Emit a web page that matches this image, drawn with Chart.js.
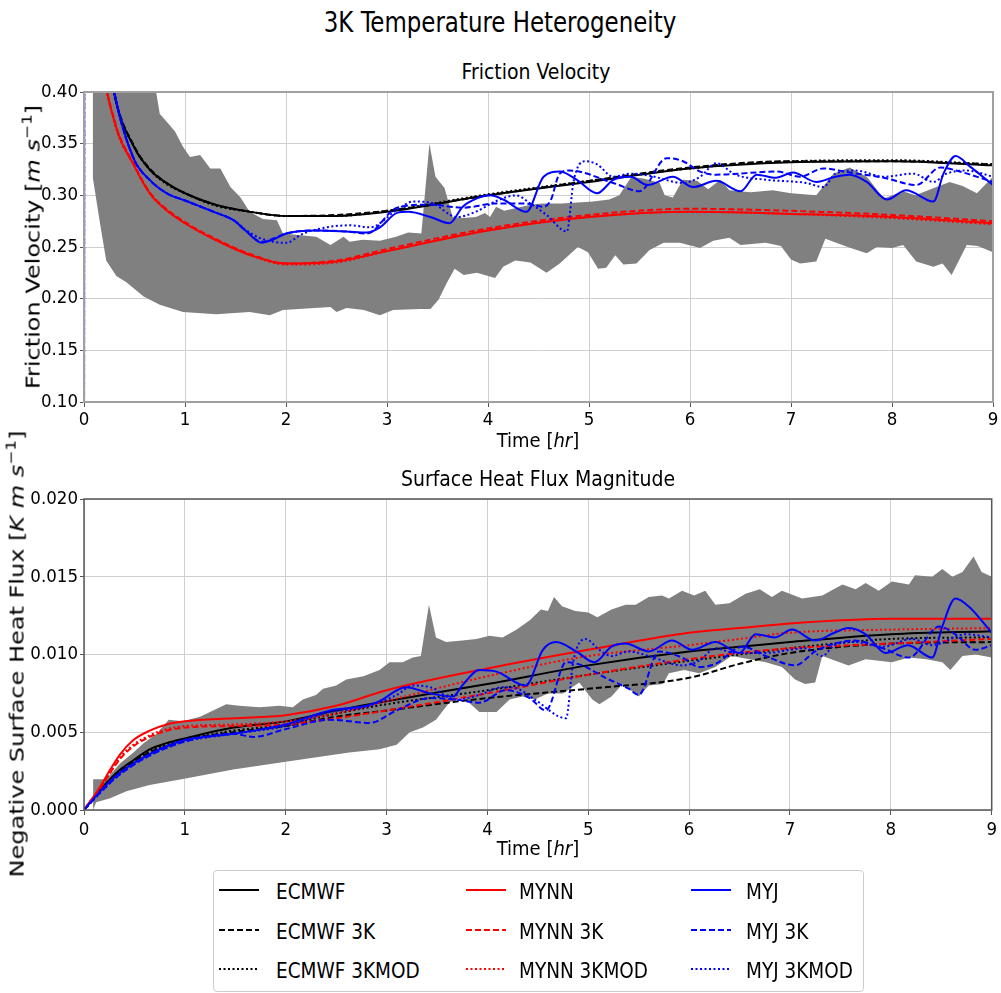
<!DOCTYPE html>
<html>
<head>
<meta charset="utf-8">
<script src="https://cdn.jsdelivr.net/npm/chart.js@4.4.1/dist/chart.umd.min.js"></script>
<style>
  body { margin: 0; background: #fff; }
  #page { position: relative; width: 1001px; height: 993px; overflow: hidden;
          font-family: 'DejaVu Sans Condensed', 'DejaVu Sans', sans-serif; color: #000; }
  canvas { position: absolute; left: 0; }
  .txt { position: absolute; white-space: nowrap; line-height: 1; }
  .ctr { transform: translateX(-50%); }
  .ylab { font-family: 'DejaVu Sans', sans-serif; font-size: 24px;
          transform: translate(-50%, -50%) rotate(-90deg) scaleY(0.8); }
  sup { font-size: 0.7em; vertical-align: 0.55em; line-height: 0; }
  #legend { position: absolute; left: 213px; top: 870px; width: 649px; height: 120px;
            border: 1px solid #ccc; border-radius: 4px; background: #fff; }
  .item { position: absolute; height: 24px; font-size: 20.5px; white-space: nowrap; }
  .item svg { position: absolute; left: 0; top: 2px; }
  .item span { position: absolute; top: 2px; white-space: nowrap; }
</style>
</head>
<body>
<div id="page">
  <div class="txt" style="left:500px; top:9px; font-size:28px; transform: translateX(-50%) scaleX(0.91);">3K Temperature Heterogeneity</div>

  <div class="txt ctr" style="left:536px; top:62px; font-size:21px;">Friction Velocity</div>
  <canvas id="ustar" width="1001" height="460" style="top:0;"></canvas>
  <div class="txt ctr" style="left:538px; top:430px; font-size:20px;">Time [<i>hr</i>]</div>
  <div class="txt ylab" style="left:33px; top:247px;">Friction Velocity [<i>m</i> <i>s</i><sup>−1</sup>]</div>

  <div class="txt ctr" style="left:538px; top:469px; font-size:21px;">Surface Heat Flux Magnitude</div>
  <canvas id="heat" width="1001" height="410" style="top:460px;"></canvas>
  <div class="txt ctr" style="left:538px; top:838px; font-size:20px;">Time [<i>hr</i>]</div>
  <div class="txt ylab" style="left:17px; top:654px;">Negative Surface Heat Flux [<i>K</i> <i>m</i> <i>s</i><sup>−1</sup>]</div>

  <div id="legend"></div>
</div>
<script>
// ---- friction velocity (m/s) ----
const tUstar = [0.05, 0.15, 0.3, 0.5, 0.65, 0.8, 1, 1.3, 1.65, 2, 2.5, 3, 4, 5, 6, 7, 8, 9];
const ecmwfUstar      = [0.62, 0.50, 0.398, 0.346, 0.325, 0.313, 0.302, 0.291, 0.284, 0.280, 0.280, 0.284, 0.300, 0.313, 0.326, 0.332, 0.333, 0.329];
const ecmwf3kUstar    = [0.62, 0.50, 0.399, 0.347, 0.326, 0.313, 0.302, 0.291, 0.284, 0.280, 0.281, 0.285, 0.300, 0.314, 0.327, 0.333, 0.333, 0.330];
const ecmwf3kmodUstar = [0.62, 0.50, 0.398, 0.346, 0.325, 0.312, 0.302, 0.290, 0.284, 0.280, 0.280, 0.285, 0.301, 0.314, 0.326, 0.333, 0.334, 0.330];
const mynnUstar       = [0.58, 0.45, 0.372, 0.328, 0.302, 0.287, 0.273, 0.257, 0.242, 0.234, 0.236, 0.246, 0.266, 0.279, 0.284, 0.282, 0.279, 0.273];
const mynn3kUstar     = [0.58, 0.45, 0.373, 0.329, 0.303, 0.288, 0.274, 0.258, 0.243, 0.234, 0.237, 0.248, 0.268, 0.281, 0.287, 0.285, 0.281, 0.275];
const mynn3kmodUstar  = [0.58, 0.45, 0.371, 0.328, 0.302, 0.287, 0.273, 0.257, 0.242, 0.233, 0.235, 0.246, 0.266, 0.279, 0.284, 0.282, 0.278, 0.272];

const myjUstar = [[0, 0.0], [0.005, 0.9], [0.15, 0.5], [0.3, 0.400], [0.49, 0.336], [0.65, 0.315], [0.82, 0.302],
  [1.0, 0.295], [1.31, 0.283], [1.48, 0.276], [1.61, 0.265], [1.76, 0.254], [1.87, 0.257], [2.0, 0.263], [2.3, 0.266],
  [2.6, 0.265], [2.8, 0.264], [2.93, 0.269], [3.1, 0.283], [3.21, 0.284], [3.43, 0.279], [3.62, 0.273], [3.75, 0.289],
  [3.89, 0.297], [4.02, 0.300], [4.15, 0.296], [4.38, 0.284], [4.55, 0.318], [4.71, 0.323], [4.88, 0.315], [5.08, 0.302],
  [5.24, 0.315], [5.41, 0.318], [5.58, 0.310], [5.83, 0.318], [6.03, 0.308], [6.26, 0.314], [6.50, 0.304], [6.66, 0.320],
  [6.85, 0.317], [7.02, 0.322], [7.25, 0.313], [7.44, 0.318], [7.58, 0.320], [7.75, 0.313], [7.95, 0.296], [8.14, 0.305],
  [8.41, 0.294], [8.51, 0.321], [8.63, 0.338], [8.77, 0.328], [9.0, 0.310]];
const myj3kUstar = [[0, 0.0], [0.005, 0.9], [0.15, 0.5], [0.3, 0.400], [0.49, 0.336], [0.65, 0.315], [0.82, 0.302],
  [1.0, 0.295], [1.31, 0.283], [1.48, 0.276], [1.61, 0.265], [1.76, 0.255], [1.87, 0.258], [2.0, 0.263], [2.3, 0.266],
  [2.6, 0.265], [2.8, 0.263], [3.1, 0.288], [3.43, 0.291], [3.75, 0.288], [4.07, 0.292], [4.38, 0.292], [4.55, 0.289],
  [4.62, 0.295], [4.71, 0.321], [4.81, 0.324], [5.24, 0.312], [5.50, 0.304], [5.77, 0.336], [5.93, 0.333], [6.10, 0.323],
  [6.26, 0.320], [6.86, 0.323], [7.09, 0.318], [7.32, 0.326], [7.58, 0.322], [7.92, 0.317], [8.24, 0.310], [8.48, 0.327],
  [8.67, 0.323], [9.0, 0.313]];
const myj3kmodUstar = [[0, 0.0], [0.005, 0.9], [0.15, 0.5], [0.3, 0.400], [0.49, 0.336], [0.65, 0.315], [0.82, 0.302],
  [1.0, 0.295], [1.31, 0.283], [1.48, 0.276], [1.61, 0.266], [1.76, 0.258], [2.0, 0.254], [2.15, 0.262], [2.3, 0.267],
  [2.63, 0.271], [2.83, 0.269], [3.1, 0.286], [3.26, 0.294], [3.43, 0.293], [3.69, 0.279], [3.9, 0.285], [4.07, 0.294],
  [4.28, 0.300], [4.42, 0.292], [4.58, 0.281], [4.78, 0.265], [4.85, 0.315], [4.96, 0.333], [5.08, 0.330], [5.24, 0.318],
  [5.41, 0.321], [5.60, 0.319], [5.93, 0.312], [6.10, 0.318], [6.26, 0.331], [6.45, 0.320], [6.76, 0.315], [7.15, 0.312],
  [7.32, 0.308], [7.44, 0.321], [7.64, 0.324], [7.92, 0.318], [8.21, 0.321], [8.41, 0.313], [8.54, 0.321], [8.74, 0.324],
  [9.0, 0.318]];

// LES spread (min / max envelope)
const lesUstarMax = [[0.086, 0.5], [0.68, 0.42], [0.75, 0.379], [0.90, 0.362], [0.98, 0.347], [1.05, 0.337], [1.15, 0.339],
  [1.25, 0.326], [1.35, 0.326], [1.45, 0.308], [1.55, 0.298], [1.64, 0.284], [1.77, 0.277], [1.91, 0.276], [1.97, 0.263],
  [2.3, 0.260], [2.44, 0.252], [2.57, 0.260], [2.63, 0.255], [2.76, 0.257], [2.93, 0.256], [3.09, 0.260], [3.21, 0.264],
  [3.34, 0.263], [3.42, 0.350], [3.48, 0.318], [3.57, 0.307], [3.65, 0.279], [3.75, 0.278], [3.88, 0.279], [3.97, 0.283],
  [4.02, 0.279], [4.08, 0.289], [4.16, 0.285], [4.42, 0.291], [4.54, 0.292], [4.73, 0.292], [5.04, 0.294], [5.20, 0.296],
  [5.30, 0.300], [5.42, 0.318], [5.55, 0.316], [5.70, 0.312], [5.75, 0.300], [5.83, 0.298], [5.93, 0.315], [6.07, 0.314],
  [6.18, 0.306], [6.30, 0.315], [6.39, 0.305], [6.60, 0.303], [6.82, 0.305], [7.0, 0.302], [7.25, 0.300], [7.42, 0.321],
  [7.58, 0.327], [7.75, 0.318], [7.92, 0.297], [8.11, 0.304], [8.23, 0.300], [8.44, 0.308], [8.57, 0.313], [8.70, 0.309],
  [8.84, 0.302], [9.0, 0.318]];
const lesUstarMin = [[0.086, 0.318], [0.16, 0.272], [0.22, 0.237], [0.32, 0.222], [0.42, 0.216], [0.59, 0.202], [0.75, 0.194],
  [0.98, 0.187], [1.31, 0.185], [1.64, 0.187], [1.84, 0.184], [1.97, 0.189], [2.44, 0.192], [2.50, 0.187], [2.60, 0.191],
  [2.77, 0.189], [2.93, 0.184], [3.06, 0.189], [3.33, 0.190], [3.43, 0.190], [3.51, 0.199], [3.59, 0.215], [3.67, 0.229],
  [3.76, 0.223], [3.89, 0.225], [4.07, 0.220], [4.15, 0.231], [4.27, 0.237], [4.42, 0.235], [4.58, 0.225], [4.71, 0.234],
  [4.89, 0.250], [4.99, 0.245], [5.09, 0.229], [5.17, 0.230], [5.26, 0.242], [5.34, 0.233], [5.47, 0.234], [5.60, 0.247],
  [5.74, 0.254], [5.90, 0.254], [6.10, 0.249], [6.23, 0.256], [6.39, 0.259], [6.50, 0.252], [6.75, 0.254], [6.90, 0.251],
  [7.0, 0.238], [7.09, 0.234], [7.25, 0.236], [7.34, 0.258], [7.59, 0.249], [7.75, 0.244], [7.85, 0.250], [8.0, 0.249],
  [8.11, 0.252], [8.24, 0.236], [8.41, 0.231], [8.50, 0.234], [8.59, 0.223], [8.74, 0.252], [8.85, 0.251], [9.0, 0.245]];

// ---- surface heat flux (K m/s) ----
const tHeat = [0, 0.16, 0.26, 0.36, 0.49, 0.65, 0.82, 1, 1.48, 2, 2.5, 3, 4, 5, 6, 6.5, 7, 8, 9];
const ecmwfHeat      = [0, 0.0013, 0.0020, 0.0026, 0.0032, 0.0039, 0.0043, 0.0046, 0.0053, 0.0057, 0.0064, 0.0070, 0.0081, 0.0093, 0.0102, 0.0105, 0.0108, 0.0113, 0.0115];
const ecmwf3kHeat    = [0, 0.0012, 0.0019, 0.0025, 0.0031, 0.0037, 0.0041, 0.0045, 0.0050, 0.0054, 0.0060, 0.0064, 0.0072, 0.0078, 0.0085, 0.0094, 0.0101, 0.0107, 0.0108];
const ecmwf3kmodHeat = [0, 0.0013, 0.0019, 0.0025, 0.0031, 0.0038, 0.0042, 0.0045, 0.0051, 0.0055, 0.0062, 0.0068, 0.0077, 0.0087, 0.0096, 0.0100, 0.0104, 0.0110, 0.0111];
const mynnHeat       = [0, 0.0015, 0.0026, 0.0036, 0.0045, 0.0051, 0.0055, 0.0057, 0.0059, 0.0061, 0.0067, 0.0077, 0.0091, 0.0103, 0.0114, 0.0117, 0.0120, 0.0123, 0.0123];
const mynn3kHeat     = [0, 0.0014, 0.0024, 0.0033, 0.0041, 0.0047, 0.0051, 0.0053, 0.0054, 0.0055, 0.0059, 0.0064, 0.0075, 0.0087, 0.0097, 0.0101, 0.0104, 0.0107, 0.0110];
const mynn3kmodHeat  = [0, 0.0014, 0.0024, 0.0034, 0.0042, 0.0048, 0.0052, 0.0054, 0.0055, 0.0057, 0.0062, 0.0070, 0.0086, 0.0099, 0.0106, 0.0110, 0.0114, 0.0116, 0.0117];

const myjHeat = [[0, 0], [0.16, 0.0012], [0.32, 0.0022], [0.49, 0.0030], [0.65, 0.0036], [0.82, 0.0041], [1.0, 0.0045],
  [1.48, 0.0049], [1.77, 0.0052], [2.0, 0.0055], [2.44, 0.0064], [2.80, 0.0067], [2.93, 0.0070], [3.19, 0.0079],
  [3.43, 0.0075], [3.66, 0.0073], [3.75, 0.0080], [3.92, 0.0090], [4.09, 0.0089], [4.38, 0.0080], [4.55, 0.0103],
  [4.68, 0.0108], [4.88, 0.0102], [5.06, 0.0095], [5.23, 0.0105], [5.37, 0.0107], [5.60, 0.0102], [5.83, 0.0109],
  [6.03, 0.0103], [6.26, 0.0108], [6.50, 0.0101], [6.66, 0.0113], [6.85, 0.0111], [7.02, 0.0116], [7.25, 0.0109],
  [7.44, 0.0114], [7.58, 0.0117], [7.75, 0.0113], [7.95, 0.0101], [8.17, 0.0106], [8.41, 0.0098], [8.51, 0.0118],
  [8.64, 0.0136], [8.77, 0.0131], [9.0, 0.0114]];
const myj3kHeat = [[0, 0], [0.16, 0.0011], [0.32, 0.0021], [0.49, 0.0029], [0.65, 0.0035], [0.82, 0.0040], [1.0, 0.0044],
  [1.48, 0.0049], [1.68, 0.0047], [2.0, 0.0052], [2.44, 0.0058], [2.83, 0.0056], [3.10, 0.0064], [3.43, 0.0072],
  [3.69, 0.0071], [3.92, 0.0069], [4.18, 0.0077], [4.42, 0.0072], [4.58, 0.0064], [4.78, 0.0095], [4.94, 0.0093],
  [5.17, 0.0085], [5.40, 0.0078], [5.50, 0.0074], [5.70, 0.0102], [5.93, 0.0098], [6.10, 0.0092], [6.26, 0.0094],
  [6.53, 0.0105], [6.76, 0.0099], [7.05, 0.0093], [7.25, 0.0102], [7.44, 0.0107], [7.64, 0.0109], [7.92, 0.0104],
  [8.18, 0.0098], [8.48, 0.0118], [8.64, 0.0113], [8.84, 0.0103], [9.0, 0.0106]];
const myj3kmodHeat = [[0, 0], [0.16, 0.0011], [0.32, 0.0021], [0.49, 0.0029], [0.65, 0.0035], [0.82, 0.0040], [1.0, 0.0044],
  [1.48, 0.0049], [2.0, 0.0054], [2.44, 0.0063], [2.77, 0.0066], [3.10, 0.0074], [3.26, 0.0080], [3.43, 0.0079],
  [3.69, 0.0071], [3.92, 0.0074], [4.15, 0.0079], [4.30, 0.0078], [4.47, 0.0071], [4.78, 0.0059], [4.85, 0.0095],
  [4.97, 0.0110], [5.11, 0.0103], [5.23, 0.0099], [5.40, 0.0102], [5.60, 0.0099], [5.93, 0.0093], [6.10, 0.0096],
  [6.26, 0.0104], [6.45, 0.0101], [6.76, 0.0101], [7.15, 0.0104], [7.32, 0.0099], [7.44, 0.0106], [7.64, 0.0108],
  [7.92, 0.0105], [8.21, 0.0110], [8.41, 0.0106], [8.74, 0.0113], [9.0, 0.0111]];

const lesHeatMax = [[0.09, 0.00197], [0.22, 0.00197], [0.36, 0.0030], [0.49, 0.0037], [0.59, 0.0043], [0.72, 0.0049],
  [0.84, 0.0058], [0.98, 0.0057], [1.15, 0.0060], [1.28, 0.0064], [1.41, 0.0068], [1.54, 0.0067], [1.74, 0.0066],
  [1.94, 0.0067], [2.07, 0.0066], [2.17, 0.0071], [2.30, 0.0074], [2.37, 0.0078], [2.50, 0.0080], [2.60, 0.0084],
  [2.77, 0.0086], [2.93, 0.0090], [3.03, 0.0095], [3.16, 0.0095], [3.26, 0.0098], [3.34, 0.0099], [3.42, 0.0132],
  [3.49, 0.0111], [3.59, 0.0108], [3.75, 0.0109], [3.89, 0.0110], [4.02, 0.0112], [4.15, 0.0111], [4.29, 0.0116],
  [4.42, 0.0122], [4.53, 0.0129], [4.60, 0.0128], [4.66, 0.0137], [4.74, 0.0131], [4.87, 0.0128], [5.0, 0.0127],
  [5.09, 0.0124], [5.23, 0.0129], [5.37, 0.0132], [5.47, 0.0132], [5.60, 0.0137], [5.73, 0.0138], [5.80, 0.0136],
  [5.93, 0.0141], [6.05, 0.0138], [6.16, 0.0141], [6.26, 0.0132], [6.40, 0.0133], [6.56, 0.0139], [6.70, 0.0142],
  [6.82, 0.0137], [6.92, 0.0141], [7.12, 0.0136], [7.32, 0.0138], [7.52, 0.0145], [7.65, 0.0142], [7.75, 0.0146],
  [7.88, 0.0141], [8.01, 0.0147], [8.18, 0.0145], [8.24, 0.0151], [8.41, 0.0150], [8.51, 0.0155], [8.61, 0.0150],
  [8.71, 0.0153], [8.82, 0.0163], [8.90, 0.0153], [9.0, 0.0150]];
const lesHeatMin = [[0.09, 0.0], [0.12, 0.0005], [0.26, 0.00075], [0.42, 0.0012], [0.65, 0.0016], [0.98, 0.0020],
  [1.48, 0.0026], [2.0, 0.0031], [2.63, 0.0037], [2.93, 0.0039], [3.10, 0.0042], [3.23, 0.0050], [3.36, 0.0053],
  [3.49, 0.0058], [3.62, 0.0069], [3.75, 0.0073], [3.92, 0.0063], [4.09, 0.0063], [4.22, 0.0071], [4.35, 0.0073],
  [4.47, 0.0071], [4.60, 0.0075], [4.75, 0.0075], [4.91, 0.0082], [5.04, 0.0071], [5.11, 0.0068], [5.23, 0.0073],
  [5.34, 0.0081], [5.50, 0.0073], [5.60, 0.0080], [5.74, 0.0081], [5.80, 0.0088], [5.95, 0.0090], [6.10, 0.0088],
  [6.26, 0.0092], [6.42, 0.0099], [6.60, 0.0097], [6.76, 0.0095], [6.92, 0.0092], [7.05, 0.0084], [7.15, 0.0081],
  [7.25, 0.0082], [7.32, 0.0099], [7.58, 0.0093], [7.75, 0.0097], [8.01, 0.0095], [8.18, 0.0098], [8.35, 0.0097],
  [8.51, 0.0095], [8.59, 0.0090], [8.71, 0.0099], [8.84, 0.0100], [9.0, 0.0098]];

const timeTicks = [0, 1, 2, 3, 4, 5, 6, 7, 8, 9];

// ---- styling ----
const FONT = "'DejaVu Sans Condensed', 'DejaVu Sans', sans-serif";
const DASHED = [6, 3];
const DOTTED = [2, 2.5];

const zip = (t, v) => t.map((x, i) => ({ x, y: v[i] }));
const pts = arr => arr.map(([x, y]) => ({ x, y }));

function line(data, color, dash, order) {
  return {
    data, borderColor: color, borderWidth: 2, borderDash: dash || [],
    pointRadius: 0, cubicInterpolationMode: 'monotone', fill: false, order
  };
}
function band(upper, lower) {
  return [
    { data: pts(upper), borderWidth: 0, pointRadius: 0, tension: 0, fill: false, order: 10 },
    { data: pts(lower), borderWidth: 0, pointRadius: 0, tension: 0, fill: '-1',
      backgroundColor: '#808080', order: 10 }
  ];
}

const frame = {
  id: 'frame',
  afterDatasetsDraw(chart, args, opts) {
    const { ctx, chartArea: a } = chart;
    ctx.save();
    ctx.strokeStyle = opts.color;
    ctx.lineWidth = opts.width;
    ctx.strokeRect(a.left, a.top, a.right - a.left, a.bottom - a.top);
    ctx.restore();
  }
};

function makeChart(id, datasets, y, pad) {
  return new Chart(document.getElementById(id), {
    type: 'line',
    data: { datasets },
    plugins: [frame],
    options: {
      responsive: false,
      animation: false,
      events: [],
      layout: { padding: { top: pad.top, right: 8, left: 0, bottom: 0 } },
      plugins: {
        legend: { display: false },
        tooltip: { enabled: false },
        frame: { color: pad.frame, width: pad.frameWidth }
      },
      scales: {
        x: {
          type: 'linear', min: 0, max: 9,
          afterFit(s) { s.height = pad.xHeight; },
          afterBuildTicks(s) { s.ticks = timeTicks.map(v => ({ value: v })); },
          ticks: { color: '#000', font: { family: FONT, size: 18.5 }, padding: pad.xTickPad,
                   maxRotation: 0, callback: v => String(v) },
          grid: { color: '#cfcfcf', lineWidth: 1, tickLength: 5, tickColor: '#555' },
          border: { display: false }
        },
        y: {
          type: 'linear', min: y.min, max: y.max,
          afterFit(s) { s.width = 84; },
          afterBuildTicks(s) { s.ticks = y.ticks.map(v => ({ value: v })); },
          ticks: { color: '#000', font: { family: FONT, size: 18.5 }, padding: 2,
                   callback: v => v.toFixed(y.digits) },
          grid: { color: '#cfcfcf', lineWidth: 1, tickLength: 4, tickColor: '#555' },
          border: { display: false }
        }
      }
    }
  });
}

makeChart('ustar', [
  ...band(lesUstarMax, lesUstarMin),
  line(zip(tUstar, ecmwfUstar), '#000000', null, 3),
  line(zip(tUstar, ecmwf3kUstar), '#000000', DASHED, 3),
  line(zip(tUstar, ecmwf3kmodUstar), '#000000', DOTTED, 3),
  line(zip(tUstar, mynnUstar), '#ff0000', null, 2),
  line(zip(tUstar, mynn3kUstar), '#ff0000', DASHED, 2),
  line(zip(tUstar, mynn3kmodUstar), '#ff0000', DOTTED, 2),
  line(pts(myjUstar), '#0000ff', null, 1),
  line(pts(myj3kUstar), '#0000ff', DASHED, 1),
  line(pts(myj3kmodUstar), '#0000ff', DOTTED, 1)
], { min: 0.10, max: 0.40, digits: 2, ticks: [0.10, 0.15, 0.20, 0.25, 0.30, 0.35, 0.40] },
   { top: 92, xHeight: 58, xTickPad: 2, frame: '#a0a0a0', frameWidth: 2 });

makeChart('heat', [
  ...band(lesHeatMax, lesHeatMin),
  line(zip(tHeat, ecmwfHeat), '#000000', null, 3),
  line(zip(tHeat, ecmwf3kHeat), '#000000', DASHED, 3),
  line(zip(tHeat, ecmwf3kmodHeat), '#000000', DOTTED, 3),
  line(zip(tHeat, mynnHeat), '#ff0000', null, 2),
  line(zip(tHeat, mynn3kHeat), '#ff0000', DASHED, 2),
  line(zip(tHeat, mynn3kmodHeat), '#ff0000', DOTTED, 2),
  line(pts(myjHeat), '#0000ff', null, 1),
  line(pts(myj3kHeat), '#0000ff', DASHED, 1),
  line(pts(myj3kmodHeat), '#0000ff', DOTTED, 1)
], { min: 0, max: 0.020, digits: 3, ticks: [0, 0.005, 0.010, 0.015, 0.020] },
   { top: 39, xHeight: 60, xTickPad: 4, frame: '#555555', frameWidth: 1.5 });

// ---- legend ----
const legendNames = [['ECMWF', 'MYNN', 'MYJ'], ['ECMWF 3K', 'MYNN 3K', 'MYJ 3K'], ['ECMWF 3KMOD', 'MYNN 3KMOD', 'MYJ 3KMOD']];
const legendColors = ['#000000', '#ff0000', '#0000ff'];
const legendDash = ['', '6 3', '2 2.5'];
const colX = [5, 252, 477];
const textX = [57, 53, 55];
const rowY = [7, 47, 86];
const lg = document.getElementById('legend');
legendNames.forEach((row, r) => row.forEach((name, c) => {
  const d = document.createElement('div');
  d.className = 'item';
  d.style.left = colX[c] + 'px';
  d.style.top = rowY[r] + 'px';
  d.innerHTML = `<svg width="42" height="20"><line x1="0" y1="10" x2="40" y2="10" stroke="${legendColors[c]}"
    stroke-width="2" stroke-dasharray="${legendDash[r]}"/></svg><span style="left:${textX[c]}px">${name}</span>`;
  lg.appendChild(d);
}));
</script>
</body>
</html>
